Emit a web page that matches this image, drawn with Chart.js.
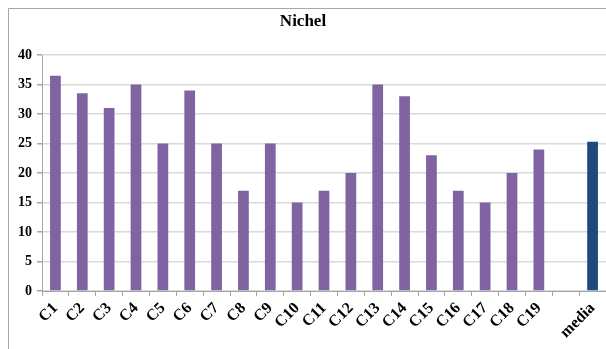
<!DOCTYPE html>
<html>
<head>
  <title>Nichel</title>
  <script src="https://cdn.jsdelivr.net/npm/chart.js"></script>
  <style>
    html, body { margin: 0; overflow: hidden; background: #fff; }
  </style>
</head>
<body>
  <canvas id="nichelChart" width="606" height="349"></canvas>

  <script>
    // categories and values
    const categories = ['C1', 'C2', 'C3', 'C4', 'C5', 'C6', 'C7', 'C8', 'C9', 'C10',
      'C11', 'C12', 'C13', 'C14', 'C15', 'C16', 'C17', 'C18', 'C19', '', 'media'];
    const values = [36.5, 33.5, 31, 35, 25, 34, 25, 17, 25, 15,
      17, 20, 35, 33, 23, 17, 15, 20, 24, null, 25.3];
    const yTicks = [0, 5, 10, 15, 20, 25, 30, 35, 40];

    const barColors = categories.map(c => c === 'media' ? '#1f497d' : '#8064a2');

    // outer chart frame, only left and top edges are inside the picture
    const framePlugin = {
      id: 'frame',
      beforeDraw(chart) {
        const c = chart.ctx;
        c.save();
        c.strokeStyle = '#a6a6a6';
        c.lineWidth = 1;
        c.beginPath();
        c.moveTo(8.5, chart.height);
        c.lineTo(8.5, 8.5);
        c.lineTo(chart.width, 8.5);
        c.stroke();
        c.restore();
      }
    };

    const ctx = document.getElementById('nichelChart').getContext('2d');
    new Chart(ctx, {
      type: 'bar',
      data: {
        labels: categories,
        datasets: [{
          data: values,
          backgroundColor: barColors,
          barPercentage: 0.4,
          categoryPercentage: 1
        }]
      },
      plugins: [framePlugin],
      options: {
        responsive: false,
        animation: false,
        layout: { padding: 0 },
        plugins: {
          legend: { display: false },
          tooltip: { enabled: false },
          title: {
            display: true,
            text: 'Nichel',
            color: '#000',
            font: { family: 'Liberation Serif', size: 17, weight: 'bold', lineHeight: 1.2 },
            padding: { top: 11, bottom: 23.6 }
          }
        },
        scales: {
          x: {
            grid: { drawOnChartArea: false, drawTicks: true, tickLength: 5, color: '#a6a6a6' },
            border: { color: '#a6a6a6', width: 1 },
            ticks: {
              color: '#000',
              font: { family: 'Liberation Serif', size: 16, weight: 'bold' },
              maxRotation: 45, minRotation: 45, autoSkip: false, padding: 3
            },
            afterFit: s => { s.height = 58; s.paddingRight = 0; s.paddingLeft = 0; }
          },
          y: {
            min: 0,
            max: 40,
            afterBuildTicks: s => { s.ticks = yTicks.map(v => ({ value: v })); },
            grid: { color: '#d9d9d9', lineWidth: 1.5, tickLength: 5, tickColor: '#a6a6a6' },
            border: { color: '#a6a6a6', width: 1 },
            ticks: {
              color: '#000',
              font: { family: 'Liberation Serif', size: 14, weight: 'bold' },
              padding: 5
            },
            afterFit: s => { s.width = 42; }
          }
        }
      }
    });
  </script>
</body>
</html>
